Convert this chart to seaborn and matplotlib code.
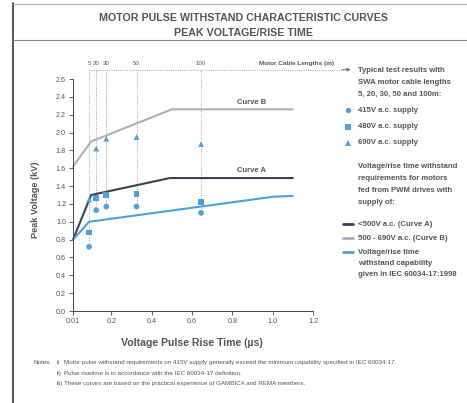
import matplotlib
matplotlib.use("Agg")
import matplotlib.pyplot as plt
import seaborn as sns
import pandas as pd
from matplotlib.lines import Line2D

# ---------------- data ----------------
cable_lengths = ["5", "20", "30", "50", "100"]
rise_times = [0.09, 0.125, 0.175, 0.325, 0.645]
v415 = [0.72, 1.13, 1.17, 1.17, 1.10]
v480 = [0.88, 1.27, 1.30, 1.31, 1.22]
v690 = [1.25, 1.82, 1.93, 1.95, 1.87]

curveA_x = [0.01, 0.10, 0.49, 1.10]
curveA_y = [0.80, 1.30, 1.49, 1.49]
curveB_x = [0.01, 0.10, 0.50, 1.10]
curveB_y = [1.62, 1.90, 2.26, 2.26]
iec_x = [0.01, 0.09, 1.00, 1.10]
iec_y = [0.80, 1.00, 1.28, 1.29]

x_ticks = [0.01, 0.2, 0.4, 0.6, 0.8, 1.0, 1.2]
x_ticklabels = ["0.01", "0.2", "0.4", "0.6", "0.8", "1.0", "1.2"]
y_ticks = [0.0, 0.2, 0.4, 0.6, 0.8, 1.0, 1.2, 1.4, 1.6, 1.8, 2.0, 2.2, 2.4, 2.6]

# ---------------- style ----------------
sns.set_theme(style="white")
plt.rcParams["font.family"] = ["Liberation Sans", "DejaVu Sans"]

W, H = 467, 403
fig = plt.figure(figsize=(W / 100, H / 100), dpi=100)
fig.patch.set_facecolor("white")

def fx(px):
    return px / W

def fy(py):
    return 1 - py / H

ax_l, ax_r, ax_t, ax_b = 73, 313, 79, 311
ax = fig.add_axes([fx(ax_l), fy(ax_b), (ax_r - ax_l) / W, (ax_b - ax_t) / H])
ax.set_facecolor("white")

TXT = "#50555c"
BLUE = "#4f9fdc"
DARK = "#3c4150"
LIGHT = "#a9aebb"

lines_df = pd.concat([
    pd.DataFrame({"x": curveB_x, "y": curveB_y, "curve": "B"}),
    pd.DataFrame({"x": curveA_x, "y": curveA_y, "curve": "A"}),
    pd.DataFrame({"x": iec_x, "y": iec_y, "curve": "IEC"}),
])
sns.lineplot(data=lines_df, x="x", y="y", hue="curve", sort=False,
             palette={"A": DARK, "B": LIGHT, "IEC": BLUE}, linewidth=1.5,
             legend=False, ax=ax, clip_on=False)

# vertical dotted lines for cable lengths
top_y = 2.705
for x, lo in zip(rise_times, v415):
    ax.plot([x, x], [lo, top_y], color="#80848c", lw=0.6, ls=":", clip_on=False, zorder=1)
ax.plot([rise_times[0], 1.36], [top_y, top_y], color="#80848c", lw=0.6, ls=":",
        clip_on=False, zorder=1)
ax.annotate("", xy=(1.40, top_y), xytext=(1.33, top_y),
            arrowprops=dict(arrowstyle="-|>", color="#666", lw=0.6,
                            mutation_scale=5), annotation_clip=False)
for x, lab in zip(rise_times, cable_lengths):
    ax.text(x, 2.745, lab, ha="center", va="bottom", fontsize=4.4, color=TXT)
ax.text(1.12, 2.745, "Motor Cable Lengths (m)", ha="center", va="bottom",
        fontsize=4.6, color=TXT, fontweight="bold")

pts = pd.concat([
    pd.DataFrame({"x": rise_times, "y": v415, "s": "415"}),
    pd.DataFrame({"x": rise_times, "y": v480, "s": "480"}),
    pd.DataFrame({"x": rise_times, "y": v690, "s": "690"}),
])
sns.scatterplot(data=pts, x="x", y="y", style="s", hue="s",
                markers={"415": "o", "480": "s", "690": "^"},
                palette={"415": BLUE, "480": BLUE, "690": BLUE},
                s=17, edgecolor="none", legend=False, ax=ax, zorder=5)

ax.text(0.895, 2.30, "Curve B", fontsize=5.5, color=TXT, fontweight="bold",
        ha="center", va="bottom")
ax.text(0.895, 1.53, "Curve A", fontsize=5.5, color=TXT, fontweight="bold",
        ha="center", va="bottom")

ax.set_xlim(0.01, 1.2)
ax.set_ylim(0, 2.6)
ax.set_xticks(x_ticks)
ax.set_xticklabels(x_ticklabels)
ax.set_yticks(y_ticks)
ax.set_yticklabels([f"{v:.1f}" for v in y_ticks])
ax.tick_params(axis="both", labelsize=5.2, colors="#444", labelcolor=TXT,
               length=3, width=0.6, direction="out", pad=2)
ax.tick_params(axis="both", which="both", bottom=True, left=True)
for s in ["top", "right"]:
    ax.spines[s].set_visible(False)
for s in ["left", "bottom"]:
    ax.spines[s].set_color("#444")
    ax.spines[s].set_linewidth(0.7)
ax.set_xlabel("")
ax.set_ylabel("")

# axis labels
fig.text(fx(192), fy(343), "Voltage Pulse Rise Time (µs)", ha="center", va="center",
         fontsize=7.6, fontweight="bold", color=TXT)
fig.text(fx(36), fy(200), "Peak Voltage (kV)", ha="center", va="center",
         rotation=90, fontsize=6.6, fontweight="bold", color=TXT)

# title
fig.text(fx(244), fy(18), "MOTOR PULSE WITHSTAND CHARACTERISTIC CURVES",
         ha="center", va="center", fontsize=7.7, fontweight="bold", color=TXT)
fig.text(fx(244), fy(33), "PEAK VOLTAGE/RISE TIME",
         ha="center", va="center", fontsize=7.7, fontweight="bold", color=TXT)

# frame lines
fig.add_artist(Line2D([fx(13), fx(13)], [0, fy(3)], color="#555", lw=1.4))
fig.add_artist(Line2D([fx(13), 1], [fy(3.5), fy(3.5)], color="#999", lw=0.6))
fig.add_artist(Line2D([fx(13), 1], [fy(40), fy(40)], color="#888", lw=0.8))

# legend area
lx = 358
lfs = 5.6
def ltxt(y, s, bold=True):
    fig.text(fx(lx), fy(y), s, ha="left", va="center", fontsize=lfs,
             fontweight="bold" if bold else "normal", color=TXT)

ltxt(70, "Typical test results with")
ltxt(82.5, "SWA motor cable lengths")
ltxt(94.5, "5, 20, 30, 50 and 100m:")
for y, m, s in [(110, "o", "415V a.c. supply"), (126.5, "s", "480V a.c. supply"),
                (143, "^", "690V a.c. supply")]:
    fig.add_artist(Line2D([fx(348)], [fy(y)], marker=m, color=BLUE, ms=3.8,
                          markeredgewidth=0, linestyle="none"))
    ltxt(y, s)
ltxt(167, "Voltage/rise time withstand")
ltxt(179, "requirements for motors")
ltxt(191, "fed from PWM drives with")
ltxt(202.5, "supply of:")
for y, c, s in [(224, DARK, "<500V a.c. (Curve A)"), (238, LIGHT, "500 - 690V a.c. (Curve B)"),
                (252, BLUE, "Voltage/rise time")]:
    fig.add_artist(Line2D([fx(343), fx(353)], [fy(y), fy(y)], color=c, lw=2))
    ltxt(y, s)
ltxt(263.5, "withstand capability")
ltxt(275, "given in IEC 60034-17:1998")

# notes
nfs = 4.5
fig.text(fx(33), fy(362.5), "Notes:", fontsize=nfs, color=TXT, va="center")
for y, num, s in [
    (362.5, "i)", "Motor pulse withstand requirements on 415V supply generally exceed the minimum capability specified in IEC 60034-17."),
    (373.5, "ii)", "Pulse risetime is in accordance with the IEC 60034-17 definition."),
    (384, "iii)", "These curves are based on the practical experience of GAMBICA and REMA members."),
]:
    fig.text(fx(56.5), fy(y), num, fontsize=nfs, color=TXT, va="center")
    fig.text(fx(63.5), fy(y), s, fontsize=nfs, color=TXT, va="center")

fig.savefig("out.png", dpi=100, facecolor="white")
